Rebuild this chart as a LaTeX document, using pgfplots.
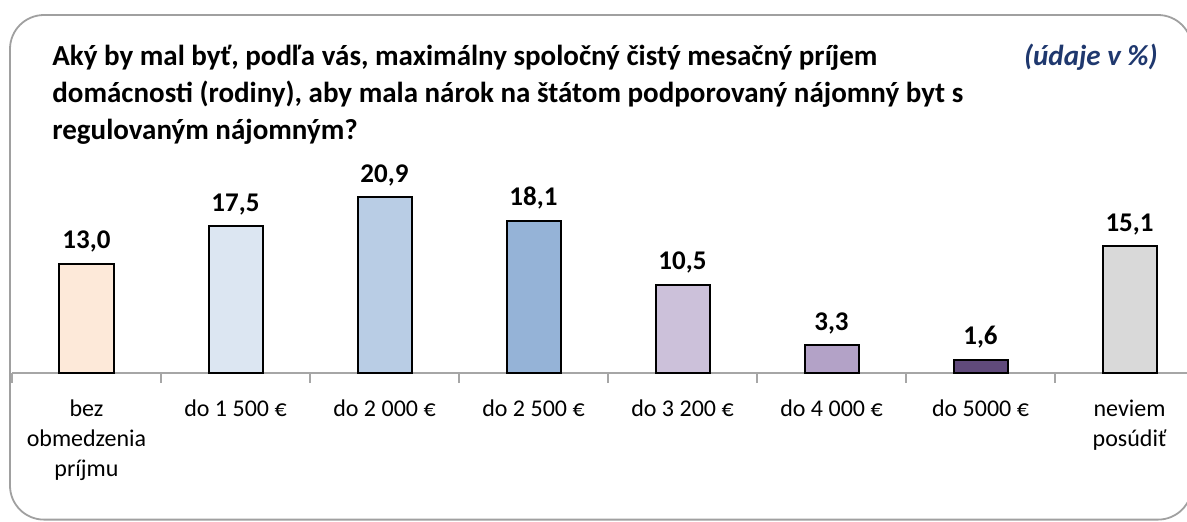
\documentclass[border=0pt]{standalone}
\usepackage{pgfplots}
\pgfplotsset{compat=1.18}
\usepackage{fontspec}
\setmainfont{Carlito}
\definecolor{c1}{HTML}{FDE9D9}
\definecolor{c2}{HTML}{DCE6F2}
\definecolor{c3}{HTML}{B9CDE5}
\definecolor{c4}{HTML}{95B3D7}
\definecolor{c5}{HTML}{CCC1DA}
\definecolor{c6}{HTML}{B3A2C7}
\definecolor{c7}{HTML}{604A7B}
\definecolor{c8}{HTML}{D9D9D9}
\definecolor{navy}{RGB}{31,56,110}
\definecolor{framegray}{HTML}{A0A0A0}
\definecolor{axgray}{HTML}{A6A6A6}
\begin{document}
\begin{tikzpicture}
\useasboundingbox (0,0) rectangle (593.5pt,-260.5pt);
\clip (0,0) rectangle (593.5pt,-260.5pt);
\draw[framegray, line width=0.9pt, rounded corners=17pt] (5pt,-7.5pt) rectangle (596pt,-259.8pt);
\node[anchor=base west, inner sep=0pt, align=left, font=\bfseries\fontsize{14.5}{18.5}\selectfont] at (26pt,-69.5pt)
{Aký by mal byť, podľa vás, maximálny spoločný čistý mesačný príjem\\domácnosti (rodiny), aby mala nárok na štátom podporovaný nájomný byt s\\regulovaným nájomným?};
\node[anchor=base east, inner sep=0pt, text=navy, font=\bfseries\itshape\fontsize{14.5}{18.5}\selectfont] at (579pt,-32.5pt) {(údaje v \%)};
\begin{axis}[
  at={(43.25pt,-186.5pt)}, anchor=origin,
  x=74.5pt, y=4.2pt,
  xmin=-0.5, xmax=7.386, ymin=0, ymax=24,
  axis x line*=bottom, axis y line=none,
  x axis line style={draw=axgray, line width=0.8pt},
  ybar, bar width=27pt, bar shift=0pt,
  xtick={0,...,7},
  xticklabels={{bez\\obmedzenia\\príjmu},{do 1 500 €},{do 2 000 €},{do 2 500 €},{do 3 200 €},{do 4 000 €},{do 5000 €},{neviem\\posúdiť}},
  major tick length=0pt,
  minor xtick={-0.5,0.5,...,6.5},
  minor tick length=5pt,
  tick align=outside,
  minor tick style={draw=axgray, line width=0.8pt},
  xticklabel style={font=\fontsize{12}{15}\selectfont, align=center, yshift=-10pt},
  nodes near coords, point meta=explicit symbolic,
  every node near coord/.append style={font=\bfseries\fontsize{13.5}{15}\selectfont, anchor=base, yshift=7.5pt, text=black},
  clip=false,
  every axis plot/.append style={draw=black, line width=1pt},
]
\addplot[fill=c1] coordinates {(0,13.0) [13,0]};
\addplot[fill=c2] coordinates {(1,17.5) [17,5]};
\addplot[fill=c3] coordinates {(2,20.9) [20,9]};
\addplot[fill=c4] coordinates {(3,18.1) [18,1]};
\addplot[fill=c5] coordinates {(4,10.5) [10,5]};
\addplot[fill=c6] coordinates {(5,3.3) [3,3]};
\addplot[fill=c7] coordinates {(6,1.6) [1,6]};
\addplot[fill=c8] coordinates {(7,15.1) [15,1]};
\end{axis}
\end{tikzpicture}
\end{document}
